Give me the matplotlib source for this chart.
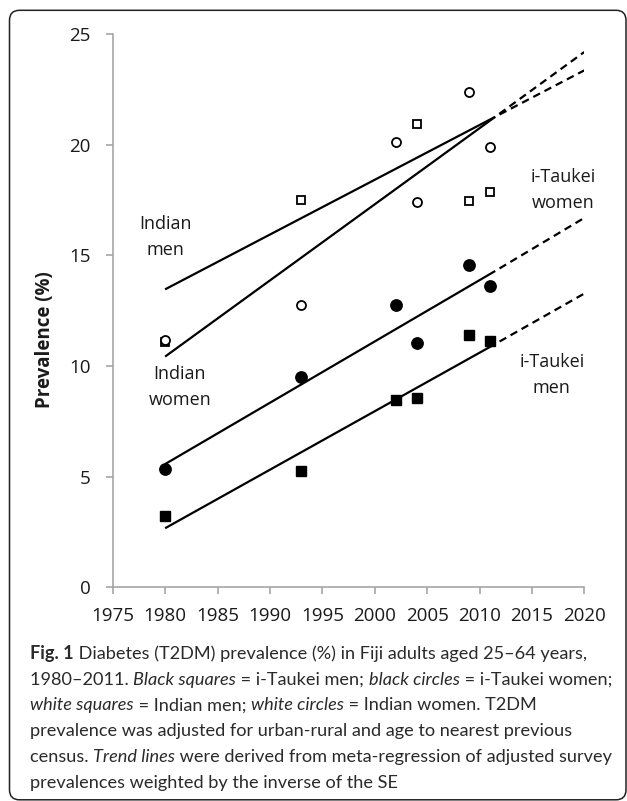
import matplotlib
matplotlib.use("Agg")
import matplotlib.pyplot as plt
from matplotlib.patches import FancyBboxPatch

# ---------------- dados ----------------
anos_im = [1980, 1993, 2004, 2009, 2011]
indian_men = [11.1, 17.5, 20.95, 17.48, 17.88]

anos = [1980, 1993, 2002, 2004, 2009, 2011]
indian_women = [11.2, 12.76, 20.15, 17.4, 22.39, 19.92]
taukei_women = [5.33, 9.49, 12.76, 11.06, 14.57, 13.62]
taukei_men = [3.22, 5.27, 8.47, 8.57, 11.39, 11.13]

# linhas de tendência: 1980, fim do trecho sólido, 2020
anos_tend = [1980, 2011.5, 2020]
tend_indian_men = [13.47, 21.27, 23.37]
tend_indian_women = [10.43, 21.27, 24.2]
tend_taukei_women = [5.57, 14.3, 16.7]
tend_taukei_men = [2.67, 11.0, 13.28]

xticks = [1975, 1980, 1985, 1990, 1995, 2000, 2005, 2010, 2015, 2020]
yticks = [0, 5, 10, 15, 20, 25]

rotulos = [("Indian\nmen", 1980.0, 15.84),
           ("Indian\nwomen", 1981.4, 9.06),
           ("i-Taukei\nwomen", 2018.0, 17.96),
           ("i-Taukei\nmen", 2016.9, 9.6)]

legenda = [
    [("Fig. 1", "bold", "normal"), (" Diabetes (T2DM) prevalence (%) in Fiji adults aged 25\u201364 years,", "normal", "normal")],
    [("1980\u20132011. ", "normal", "normal"), ("Black squares", "normal", "italic"), (" = i-Taukei men; ", "normal", "normal"),
     ("black circles", "normal", "italic"), (" = i-Taukei women;", "normal", "normal")],
    [("white squares", "normal", "italic"), (" = Indian men; ", "normal", "normal"), ("white circles", "normal", "italic"),
     (" = Indian women. T2DM", "normal", "normal")],
    [("prevalence was adjusted for urban-rural and age to nearest previous", "normal", "normal")],
    [("census. ", "normal", "normal"), ("Trend lines", "normal", "italic"),
     (" were derived from meta-regression of adjusted survey", "normal", "normal")],
    [("prevalences weighted by the inverse of the SE", "normal", "normal")],
]

# ---------------- estilo ----------------
plt.rcParams['font.family'] = ['Open Sans', 'DejaVu Sans']
plt.rcParams['lines.scale_dashes'] = False
cinza = "#a6a6a6"
cor_texto = "#1a1a1a"
lw = 1.6

fig = plt.figure(figsize=(6.27, 8.01), dpi=100)
ax = fig.add_axes([112.7 / 627, 1 - 587.3 / 801, (584.3 - 112.7) / 627, (587.3 - 34.3) / 801])

# linhas de tendência (sólidas até 2011, tracejadas depois)
for tend in [tend_indian_men, tend_indian_women, tend_taukei_women, tend_taukei_men]:
    ax.plot(anos_tend[:2], tend[:2], color="black", lw=lw, solid_capstyle="butt")
    ax.plot(anos_tend[1:], tend[1:], color="black", lw=lw, linestyle=(5.5, (5.5, 3.6)), dash_capstyle="butt")

# pontos
ax.plot(anos_im, indian_men, "s", ms=6.3, mfc="white", mec="black", mew=1.3, ls="none")
ax.plot(anos, indian_women, "o", ms=6.5, mfc="white", mec="black", mew=1.3, ls="none")
ax.plot(anos, taukei_women, "o", ms=8.2, color="black", ls="none")
ax.plot(anos, taukei_men, "s", ms=7.6, color="black", ls="none")

for txt, x, y in rotulos:
    ax.text(x, y, txt, ha="center", va="center", fontsize=13, color=cor_texto, linespacing=1.55)

ax.set_xlim(1975, 2020)
ax.set_ylim(0, 25)
ax.set_xticks(xticks)
ax.set_yticks(yticks)
for s in ["top", "right"]:
    ax.spines[s].set_visible(False)
for s in ["left", "bottom"]:
    ax.spines[s].set_color(cinza)
    ax.spines[s].set_linewidth(1.2)
ax.tick_params(axis="both", direction="out", length=5, width=1.2, color=cinza,
               labelsize=13.5, labelcolor=cor_texto)
ax.tick_params(axis="y", pad=11)
ax.tick_params(axis="x", pad=9)
ax.patch.set_visible(False)

fig.text(45 / 627, 1 - 340 / 801, "Prevalence (%)", rotation=90, ha="center", va="center",
         fontsize=13.5, fontweight="bold", color=cor_texto)

# legenda da figura, peça por peça, com tamanho ajustado à largura da linha 5
fig.canvas.draw()
renderer = fig.canvas.get_renderer()
fonte_leg = ['Lato', 'DejaVu Sans']


def escreve_linha(linha, x, y, tam):
    for pedaco, peso, estilo in linha:
        t = fig.text(x / 627, 1 - y / 801, pedaco, ha="left", va="center", fontsize=tam,
                     fontweight=peso, fontstyle=estilo, family=fonte_leg, color="#2a2a2a")
        x += t.get_window_extent(renderer).width
    return x


teste = escreve_linha(legenda[4], 30, -200, 14)
for t in list(fig.texts[-3:]):
    t.remove()
tam_leg = 14 * (612 - 30) / (teste - 30)

y0 = 654
for linha in legenda:
    escreve_linha(linha, 30, y0, tam_leg)
    y0 += 25.7

# moldura arredondada
moldura = FancyBboxPatch((0.095, 0.012), 6.165, 7.895, boxstyle="round,pad=0,rounding_size=0.1",
                         transform=fig.dpi_scale_trans, fill=False, ec="#222222", lw=1.1)
fig.patches.append(moldura)

fig.savefig("out.png", dpi=100)
